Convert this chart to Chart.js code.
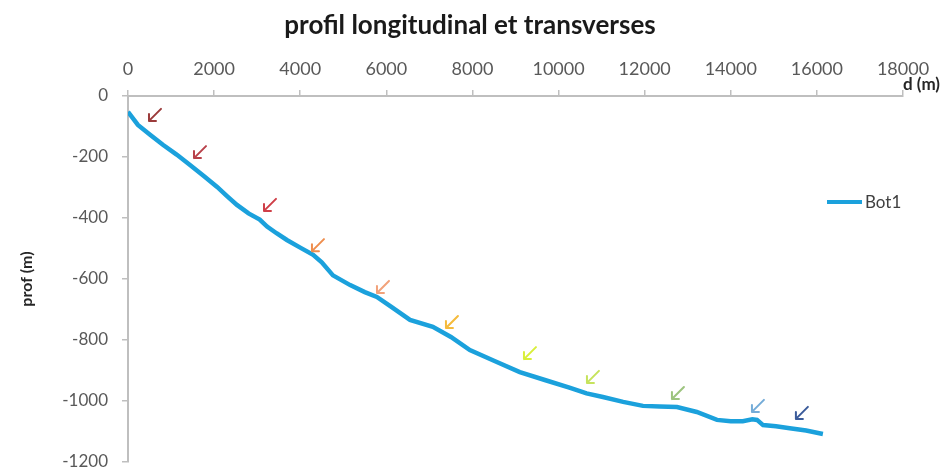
<!DOCTYPE html>
<html>
<head>
<meta charset="utf-8">
<script src="https://cdn.jsdelivr.net/npm/chart.js@4/dist/chart.umd.min.js"></script>
<style>
  html, body { margin: 0; padding: 0; background: #ffffff; }
  #wrap { width: 951px; height: 468px; position: relative; }
</style>
</head>
<body>
<div id="wrap"><canvas id="c"></canvas></div>
<script>
// ---- data ----
const chartTitle = 'profil longitudinal et transverses';
const xTitle = 'd (m)';
const yTitle = 'prof (m)';
const seriesName = 'Bot1';

const distance = [0, 230, 520, 810, 1130, 1440, 1760, 2070, 2300, 2530, 2800, 3060, 3230, 3450, 3690, 4000, 4300, 4500, 4760, 5160, 5500, 5780, 6100, 6550, 7080, 7500, 7940, 8500, 9100, 9700, 10270, 10650, 11030, 11500, 11960, 12350, 12750, 13210, 13680, 14000, 14280, 14500, 14610, 14750, 15050, 15370, 15750, 16140];
const depth = [-52, -95, -128, -160, -192, -226, -262, -298, -328, -357, -385, -405, -428, -450, -472, -497, -521, -545, -588, -620, -643, -659, -690, -734, -757, -790, -833, -868, -905, -932, -957, -975, -987, -1003, -1016, -1018, -1020, -1036, -1062, -1066, -1066, -1060, -1062, -1079, -1083, -1089, -1097, -1108];

const xTicks = [0, 2000, 4000, 6000, 8000, 10000, 12000, 14000, 16000, 18000];
const yTicks = [0, -200, -400, -600, -800, -1000, -1200];

// arrow markers (centre positions in data units)
const arrowD = [627, 1672, 3298, 4412, 5922, 7524, 9336, 10799, 12773, 14631, 15652];
const arrowY = [-62, -184, -357, -489, -626, -741, -843, -921, -974, -1016, -1039];
const arrowColors = ['#9b3b3b', '#b8414a', '#cf3f48', '#ef8e4e', '#f2a27a', '#f5bb3c', '#d9ef3a', '#c6e35c', '#9dc47f', '#74acd8', '#3b5b9a'];

// ---- styles ----
const lineColor = '#1ba1dc';
const axisColor = '#bfbfbf';
const tickColor = '#595959';
const FONT = 'Lato, "Open Sans", sans-serif';

const overlay = {
  id: 'overlay',
  afterDatasetsDraw(chart) {
    const { ctx, chartArea, scales: { x, y } } = chart;
    ctx.save();
    // arrows
    arrowD.forEach((d, i) => {
      const cx = x.getPixelForValue(d);
      const cy = y.getPixelForValue(arrowY[i]);
      const s = 6;
      ctx.strokeStyle = arrowColors[i];
      ctx.lineWidth = 2;
      ctx.lineCap = 'round';
      ctx.lineJoin = 'round';
      ctx.beginPath();
      ctx.moveTo(cx + s, cy - s);
      ctx.lineTo(cx - s, cy + s);
      ctx.moveTo(cx - s, cy + s - 7);
      ctx.lineTo(cx - s, cy + s);
      ctx.lineTo(cx - s + 7, cy + s);
      ctx.stroke();
    });
    // legend
    const lx = chartArea.right - 76;
    const ly = chartArea.top + 106;
    ctx.strokeStyle = lineColor;
    ctx.lineWidth = 4;
    ctx.lineCap = 'butt';
    ctx.beginPath();
    ctx.moveTo(lx, ly);
    ctx.lineTo(lx + 35, ly);
    ctx.stroke();
    ctx.fillStyle = '#404040';
    ctx.font = '17px ' + FONT;
    ctx.textAlign = 'left';
    ctx.textBaseline = 'middle';
    ctx.fillText(chart.data.datasets[0].label, lx + 38, ly + 1);
    // x axis title at end of axis
    ctx.fillStyle = '#262626';
    ctx.font = 'bold 17px ' + FONT;
    ctx.fillText(xTitle, chartArea.right, chartArea.top - 11);
    ctx.restore();
  }
};

new Chart(document.getElementById('c'), {
  type: 'line',
  data: {
    datasets: [{
      label: seriesName,
      data: distance.map((d, i) => ({ x: d, y: depth[i] })),
      borderColor: lineColor,
      backgroundColor: lineColor,
      borderWidth: 4.5,
      pointRadius: 0,
      tension: 0,
      fill: false
    }]
  },
  options: {
    responsive: true,
    maintainAspectRatio: false,
    animation: false,
    layout: { padding: { left: 0, right: 11, top: 0, bottom: 0 } },
    plugins: {
      legend: { display: false },
      tooltip: { enabled: false },
      title: {
        display: true,
        text: chartTitle,
        color: '#1a1a1a',
        font: { family: FONT, size: 26, weight: 'bold', lineHeight: 1.2 },
        padding: { top: 10, bottom: 4.8 }
      }
    },
    scales: {
      x: {
        type: 'linear',
        position: 'top',
        min: 0,
        max: 18000,
        afterBuildTicks: (s) => { s.ticks = xTicks.map(v => ({ value: v })); },
        afterFit: (s) => { s.height = 50; s.paddingLeft = 0; s.paddingRight = 48; },
        ticks: {
          color: tickColor,
          font: { family: FONT, size: 18 },
          padding: 10,
          maxRotation: 0,
          autoSkip: false,
          callback: (v) => String(v)
        },
        grid: { drawOnChartArea: false, drawTicks: true, tickLength: 6, color: axisColor, lineWidth: 1.5 },
        border: { display: true, color: axisColor, width: 2 }
      },
      y: {
        type: 'linear',
        position: 'left',
        min: -1200,
        max: 0,
        afterBuildTicks: (s) => { s.ticks = yTicks.map(v => ({ value: v })); },
        afterFit: (s) => { s.width = 128; s.paddingBottom = 6; s.paddingTop = 0; },
        title: {
          display: true,
          text: yTitle,
          color: '#262626',
          font: { family: FONT, size: 16, weight: 'bold' },
          padding: { top: 17, bottom: 0 }
        },
        ticks: {
          color: tickColor,
          font: { family: FONT, size: 17 },
          padding: 14,
          autoSkip: false,
          callback: (v) => String(v)
        },
        grid: { drawOnChartArea: false, drawTicks: true, tickLength: 6, color: axisColor, lineWidth: 1.5 },
        border: { display: true, color: axisColor, width: 2 }
      }
    }
  },
  plugins: [overlay]
});
</script>
</body>
</html>
